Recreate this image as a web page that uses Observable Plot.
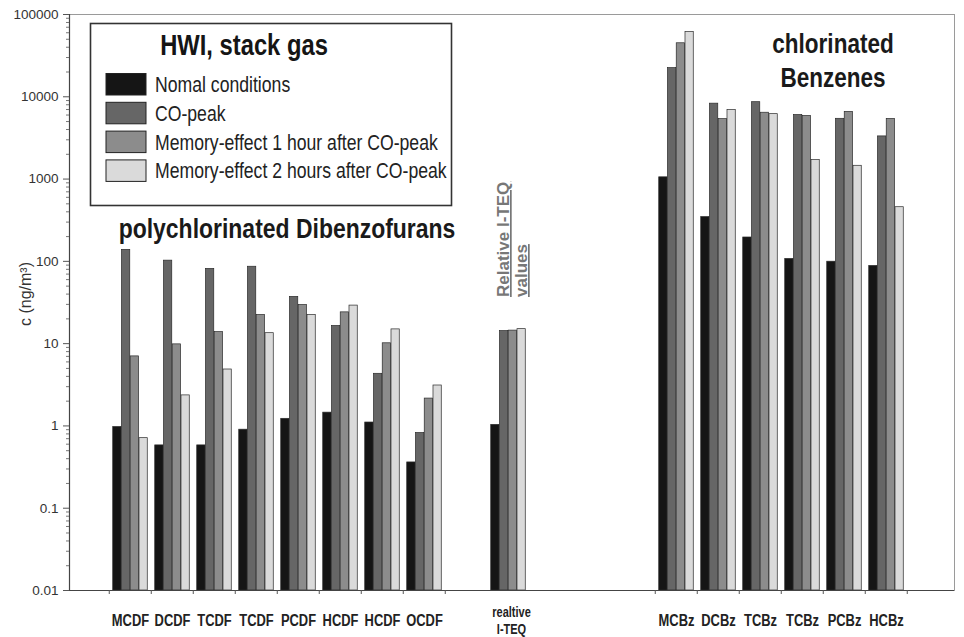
<!DOCTYPE html>
<html>
<head>
<meta charset="utf-8">
<script src="https://cdn.jsdelivr.net/npm/d3@7"></script>
<script src="https://cdn.jsdelivr.net/npm/@observablehq/plot@0.6"></script>
<style>
  html, body { margin: 0; padding: 0; background: #fff; }
  #wrap { position: relative; width: 964px; height: 637px; overflow: hidden; }
  #overlay { position: absolute; left: 0; top: 0; pointer-events: none; }
  #overlay text { font-family: "Liberation Sans", Arial, sans-serif; }
</style>
</head>
<body>
<div id="wrap"></div>
<script>
// ---------------- data ----------------
const categoryKeys   = ["MCDF", "DCDF", "TCDF-a", "TCDF-b", "PCDF", "HCDF-a", "HCDF-b", "OCDF", "ITEQ",
                        "MCBz", "DCBz", "TCBz-a", "TCBz-b", "PCBz", "HCBz"];
const categoryLabels = ["MCDF", "DCDF", "TCDF", "TCDF", "PCDF", "HCDF", "HCDF", "OCDF", "realtive\nI-TEQ",
                        "MCBz", "DCBz", "TCBz", "TCBz", "PCBz", "HCBz"];
const seriesNames = ["Nomal conditions", "CO-peak", "Memory-effect 1 hour after CO-peak", "Memory-effect 2 hours after CO-peak"];
const normalValues = [0.97, 0.58, 0.58, 0.90, 1.22, 1.45, 1.10, 0.36, 1.03, 1050, 345, 195, 107, 99, 88];
const coPeakValues = [138, 102, 81, 86, 37, 16.4, 4.3, 0.82, 14.2, 22300, 8250, 8600, 6000, 5400, 3300];
const mem1Values   = [7.0, 9.8, 13.8, 22.3, 29.5, 24, 10.1, 2.15, 14.4, 44700, 5350, 6400, 5850, 6550, 5380];
const mem2Values   = [0.71, 2.35, 4.85, 13.4, 22.3, 29, 14.9, 3.1, 15.0, 61200, 6900, 6150, 1700, 1450, 455];
const yTicks = [0.01, 0.1, 1, 10, 100, 1000, 10000, 100000];
const yTickLabels = ["0.01", "0.1", "1", "10", "100", "1000", "10000", "100000"];

// ---------------- layout / style ----------------
const seriesValues = [normalValues, coPeakValues, mem1Values, mem2Values];
const seriesColors = ["#151515", "#666666", "#8c8c8c", "#dadada"];
const W = 964, H = 637, mL = 69, mR = 10, mT = 14, mB = 47;
const xDomain = ["MCDF", "DCDF", "TCDF-a", "TCDF-b", "PCDF", "HCDF-a", "HCDF-b", "OCDF",
                 "gap1", "ITEQ", "gap2", "gap3", "gap4",
                 "MCBz", "DCBz", "TCBz-a", "TCBz-b", "PCBz", "HCBz", "gap5"];
const xInsetLeft = 35.4;
const step = (W - mL - mR - xInsetLeft) / xDomain.length;
const barW = 8.75;
const off = (step - 4 * barW) / 2;
const yMin = yTicks[0];
const NARROW = 0.82;      // horizontal condensation to mimic a narrow face
const NARROW_AXIS = 0.76;

const labelOf = new Map(categoryKeys.map((k, i) => [k, categoryLabels[i]]));
const yLabelOf = new Map(yTicks.map((t, i) => [t, yTickLabels[i]]));
const rows = categoryKeys.flatMap((k, i) =>
  seriesValues.map((vals, s) => ({key: k, s, series: seriesNames[s], value: vals[i]})));

const minorTicks = [];
for (let e = -2; e < 5; e++) for (let m = 2; m <= 9; m++) minorTicks.push(+(m * Math.pow(10, e)).toPrecision(3));

const boundaryTicks = ["MCDF", "DCDF", "TCDF-a", "TCDF-b", "PCDF", "HCDF-a", "HCDF-b", "OCDF", "gap1",
                       "MCBz", "DCBz", "TCBz-a", "TCBz-b", "PCBz", "HCBz", "gap5"];
const mainLabelKeys = categoryKeys.filter(k => k !== "ITEQ");

const chart = Plot.plot({
  width: W, height: H,
  marginLeft: mL, marginRight: mR, marginTop: mT, marginBottom: mB,
  style: {fontFamily: '"Liberation Sans", Arial, sans-serif', background: "#fff", color: "#222"},
  x: {type: "band", domain: xDomain, padding: 0, insetLeft: xInsetLeft},
  y: {type: "log", domain: [yMin, 100000]},
  marks: [
    Plot.frame({stroke: "#9a9a9a", strokeWidth: 1}),
    ...seriesNames.map((name, s) => Plot.barY(rows.filter(d => d.s === s), {
      x: "key", y1: yMin, y2: "value",
      fill: seriesColors[s], stroke: "#2a2a2a", strokeWidth: 0.7,
      insetLeft: off + s * barW, insetRight: step - off - (s + 1) * barW
    })),
    Plot.ruleY([yMin], {stroke: "#444", strokeWidth: 1.2}),
    Plot.frame({anchor: "left", stroke: "#444", strokeWidth: 1.2}),
    Plot.axisY({ticks: yTicks, tickSize: 6, tickPadding: 5, tickFormat: d => yLabelOf.get(d),
                fontSize: 13.5, fill: "#333", stroke: "#555", label: null}),
    Plot.axisY({ticks: minorTicks, tickSize: 3, tickFormat: () => "", stroke: "#777", label: null}),
    Plot.axisX({ticks: boundaryTicks, tickSize: 4, tickFormat: () => "", dx: -step / 2, stroke: "#555", label: null}),
    Plot.axisX({ticks: mainLabelKeys, tickSize: 0, tickPadding: 23, tickFormat: k => labelOf.get(k),
                fontSize: 17, fontWeight: "bold", fill: "#222", label: null}),
    Plot.axisX({ticks: ["ITEQ"], tickSize: 0, tickPadding: 14, tickFormat: k => labelOf.get(k),
                fontSize: 14.5, fontWeight: "bold", lineHeight: 1.2, fill: "#222", label: null, dx: 3})
  ]
});

const wrap = document.getElementById("wrap");
wrap.appendChild(chart);

// horizontal squeeze via a scale transform around each label's anchor
function squeeze(t, f) {
  const tr = t.getAttribute("transform") || "";
  t.setAttribute("transform", `${tr} scale(${f},1)`);
}
chart.querySelectorAll("text").forEach(t => {
  const s = t.textContent.trim();
  if (s && !yTickLabels.includes(s)) squeeze(t, NARROW_AXIS);
});

// ---------------- annotations & legend overlay ----------------
const ns = "http://www.w3.org/2000/svg";
const ov = document.createElementNS(ns, "svg");
ov.setAttribute("id", "overlay");
ov.setAttribute("width", W); ov.setAttribute("height", H);
wrap.appendChild(ov);
function el(tag, attrs, text) {
  const e = document.createElementNS(ns, tag);
  for (const [k, v] of Object.entries(attrs)) e.setAttribute(k, v);
  if (text != null) e.textContent = text;
  ov.appendChild(e);
  return e;
}
function narrowText(x, y, attrs, text) {
  return el("text", {...attrs, transform: `translate(${x},${y}) scale(${NARROW},1)`}, text);
}
// legend box
el("rect", {x: 90.5, y: 23.5, width: 361, height: 182, fill: "#fff", stroke: "#333", "stroke-width": 1.6});
narrowText(244, 55, {"text-anchor": "middle", "font-size": 29, "font-weight": "bold", fill: "#151515"}, "HWI, stack gas");
seriesNames.forEach((name, i) => {
  el("rect", {x: 106, y: 73.5 + i * 28.8, width: 40, height: 21.5, fill: seriesColors[i], stroke: "#222", "stroke-width": 1});
  narrowText(155, 91.7 + i * 28.9, {"font-size": 21.5, fill: "#222"}, name);
});
// group titles
narrowText(287, 238, {"text-anchor": "middle", "font-size": 28, "font-weight": "bold", fill: "#1a1a1a"}, "polychlorinated Dibenzofurans");
narrowText(833, 53.3, {"text-anchor": "middle", "font-size": 27.5, "font-weight": "bold", fill: "#1a1a1a"}, "chlorinated");
narrowText(833, 86.7, {"text-anchor": "middle", "font-size": 27.5, "font-weight": "bold", fill: "#1a1a1a"}, "Benzenes");
// rotated annotations
el("text", {transform: "translate(509,297) rotate(-90)", "font-size": 17, "font-weight": "bold", fill: "#777", "text-decoration": "underline"}, "Relative I-TEQ");
el("text", {transform: "translate(527,297) rotate(-90)", "font-size": 17, "font-weight": "bold", fill: "#777", "text-decoration": "underline"}, "values");
el("text", {transform: "translate(31,294) rotate(-90)", "text-anchor": "middle", "font-size": 16, fill: "#333"}, "c (ng/m³)");
</script>
</body>
</html>
